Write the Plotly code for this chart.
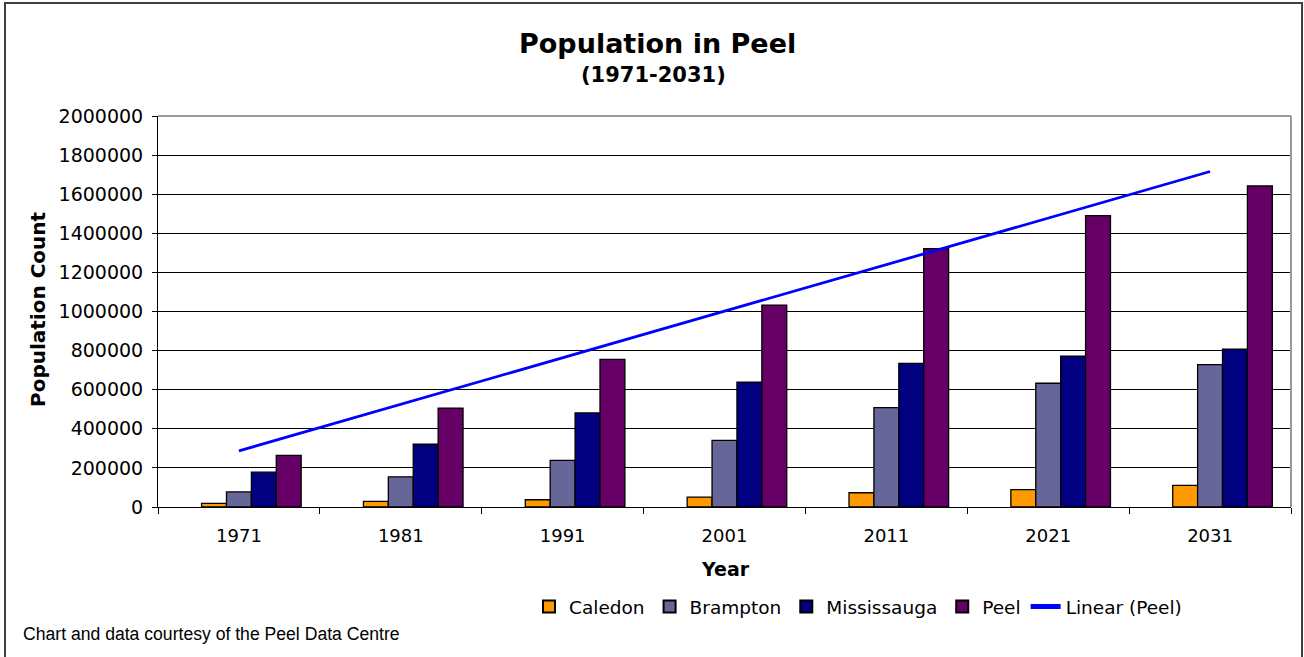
import numpy as np
import plotly.graph_objects as go

years = ["1971", "1981", "1991", "2001", "2011", "2021", "2031"]
caledon = [19000, 29000, 37000, 51000, 73000, 89000, 111000]
brampton = [77000, 154000, 239000, 341000, 508000, 633000, 728000]
mississauga = [178000, 321000, 481000, 639000, 735000, 772000, 807000]
peel = [264000, 506000, 755000, 1033000, 1321000, 1490000, 1642000]

series = [
    ("Caledon", caledon, "#FF9900"),
    ("Brampton", brampton, "#666699"),
    ("Mississauga", mississauga, "#000080"),
    ("Peel", peel, "#660066"),
]

# linear trend of Peel
idx = np.arange(len(years))
slope, intercept = np.polyfit(idx, peel, 1)
trend = slope * idx + intercept

W, H = 1304, 657
L, R, T, B = 158, 1291, 116, 507
pw, ph = R - L, B - T

def px(x):
    return (x - L) / pw

def py(y):
    return (B - y) / ph

FONT = "DejaVu Sans"

fig = go.Figure()
# empty first slot (Excel cluster has an empty series slot)
fig.add_trace(go.Bar(x=years, y=[None] * len(years), showlegend=False,
                     marker=dict(color="rgba(0,0,0,0)", line=dict(width=0)),
                     hoverinfo="skip"))
for name, vals, col in series:
    fig.add_trace(go.Bar(x=years, y=vals, name=name,
                         marker=dict(color=col, line=dict(color="black", width=1.3))))
fig.add_trace(go.Scatter(x=years, y=trend, mode="lines", name="Linear (Peel)",
                         line=dict(color="#0000FF", width=2.8)))

fig.update_layout(
    width=W, height=H,
    margin=dict(l=L, r=W - R, t=T, b=H - B, autoexpand=False),
    paper_bgcolor="white", plot_bgcolor="white",
    barmode="group", bargap=1.5 / 6.5, bargroupgap=0,
    font=dict(family=FONT, size=18, color="black"),
    showlegend=True,
    legend=dict(orientation="h", x=px(529), xanchor="left", y=py(607), yanchor="middle",
                font=dict(family=FONT, size=18.5), bgcolor="rgba(0,0,0,0)",
                itemsizing="constant", traceorder="normal"),
)
fig.update_yaxes(range=[0, 2000000], dtick=200000, tickformat="d",
                 showgrid=True, gridcolor="black", gridwidth=1,
                 showline=True, linecolor="black", linewidth=1,
                 ticks="outside", ticklen=5, tickcolor="black", ticklabelstandoff=5,
                 tickfont=dict(family=FONT, size=19), zeroline=False, fixedrange=True)
fig.update_xaxes(type="category", showline=True, linecolor="black", linewidth=1,
                 ticks="outside", ticklen=6, tickcolor="black", tickson="boundaries",
                 ticklabelstandoff=12,
                 tickfont=dict(family=FONT, size=18), showgrid=False, fixedrange=True)

annotations = [
    dict(text="<b>Population in Peel</b>", x=px(657), y=py(43), xref="paper", yref="paper",
         showarrow=False, font=dict(family=FONT, size=27), xanchor="center", yanchor="middle"),
    dict(text="<b>(1971-2031)</b>", x=px(653), y=py(75), xref="paper", yref="paper",
         showarrow=False, font=dict(family=FONT, size=21), xanchor="center", yanchor="middle"),
    dict(text="<b>Population Count</b>", x=px(38), y=py(309), xref="paper", yref="paper",
         showarrow=False, textangle=-90, font=dict(family=FONT, size=20),
         xanchor="center", yanchor="middle"),
    dict(text="<b>Year</b>", x=px(725), y=py(569), xref="paper", yref="paper",
         showarrow=False, font=dict(family=FONT, size=19), xanchor="center", yanchor="middle"),
    dict(text="Chart and data courtesy of the Peel Data Centre", x=px(21), y=py(634),
         xref="paper", yref="paper", showarrow=False,
         font=dict(family="Liberation Sans", size=17.6), xanchor="left", yanchor="middle"),
]
fig.update_layout(annotations=annotations)

shapes = [
    # outer chart border
    dict(type="rect", xref="paper", yref="paper", x0=px(5), x1=px(1302), y0=py(662), y1=py(3),
         line=dict(color="#404040", width=2), fillcolor="rgba(0,0,0,0)", layer="above"),
    # plot area top and right border (grey)
    dict(type="line", xref="paper", yref="paper", x0=0, x1=1, y0=1, y1=1,
         line=dict(color="#9A9A9A", width=2), layer="above"),
    dict(type="line", xref="paper", yref="paper", x0=1, x1=1, y0=0, y1=1,
         line=dict(color="#9A9A9A", width=2), layer="above"),
]
fig.update_layout(shapes=shapes)

fig.write_html("out.html", config={"displayModeBar": False},
               post_script="document.body.style.margin='0';document.body.style.padding='0';")
